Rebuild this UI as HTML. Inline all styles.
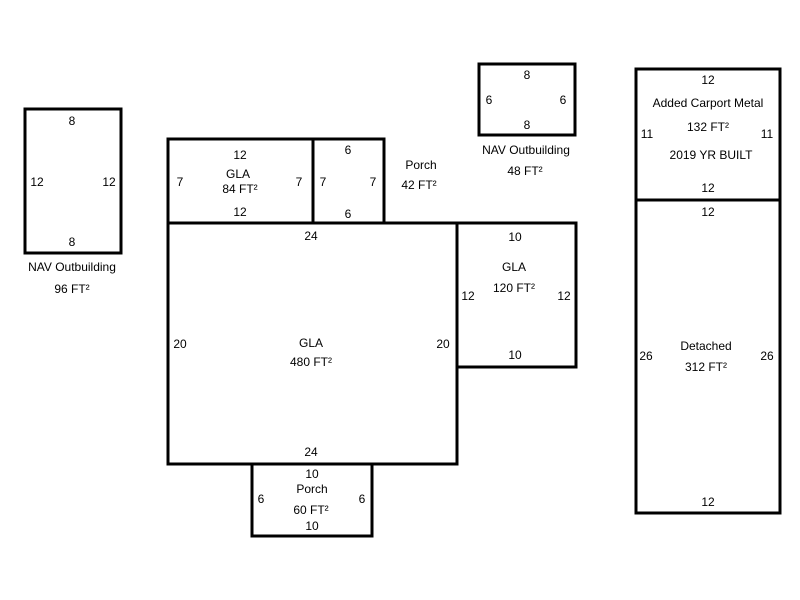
<!DOCTYPE html>
<html><head><meta charset="utf-8"><style>
html,body{margin:0;padding:0;background:#fff;}
svg{display:block;}
text{font-family:"Liberation Sans",Arial,sans-serif;font-size:12px;fill:#000;}
</style></head><body>
<svg width="800" height="600" viewBox="0 0 800 600" xmlns="http://www.w3.org/2000/svg">
<g fill="none" stroke="#000" stroke-width="3">
<rect x="25" y="109" width="96" height="144"/>
<rect x="168" y="139" width="145" height="84"/>
<rect x="313" y="139" width="71" height="84"/>
<rect x="168" y="223" width="289" height="241"/>
<rect x="457" y="223" width="119" height="144"/>
<rect x="252" y="464" width="120" height="72"/>
<rect x="479" y="64" width="96" height="71"/>
<rect x="636" y="69" width="144" height="131"/>
<rect x="636" y="200" width="144" height="313"/>
</g>
<g text-anchor="middle">
<text x="72" y="125">8</text><text x="72" y="246">8</text>
<text x="37" y="186">12</text><text x="109" y="186">12</text>
<text x="72" y="271">NAV Outbuilding</text><text x="72" y="293">96 FT²</text>

<text x="240" y="159">12</text><text x="238" y="178">GLA</text><text x="240" y="193">84 FT²</text>
<text x="240" y="216">12</text><text x="180" y="186">7</text><text x="299" y="186">7</text>

<text x="348" y="154">6</text><text x="348" y="218">6</text>
<text x="323" y="186">7</text><text x="373" y="186">7</text>
<text x="421" y="169">Porch</text><text x="419" y="189">42 FT²</text>

<text x="311" y="240">24</text><text x="311" y="456">24</text>
<text x="180" y="348">20</text><text x="443" y="348">20</text>
<text x="311" y="347">GLA</text><text x="311" y="366">480 FT²</text>

<text x="515" y="241">10</text><text x="515" y="359">10</text>
<text x="468" y="300">12</text><text x="564" y="300">12</text>
<text x="514" y="271">GLA</text><text x="514" y="292">120 FT²</text>

<text x="312" y="478">10</text><text x="312" y="530">10</text>
<text x="261" y="503">6</text><text x="362" y="503">6</text>
<text x="312" y="493">Porch</text><text x="311" y="514">60 FT²</text>

<text x="527" y="79">8</text><text x="527" y="129">8</text>
<text x="489" y="104">6</text><text x="563" y="104">6</text>
<text x="526" y="154">NAV Outbuilding</text><text x="525" y="175">48 FT²</text>

<text x="708" y="84">12</text><text x="708" y="107">Added Carport Metal</text>
<text x="708" y="131">132 FT²</text><text x="711" y="159">2019 YR BUILT</text>
<text x="647" y="138">11</text><text x="767" y="138">11</text>
<text x="708" y="192">12</text>

<text x="708" y="216">12</text><text x="708" y="506">12</text>
<text x="646" y="360">26</text><text x="767" y="360">26</text>
<text x="706" y="350">Detached</text><text x="706" y="371">312 FT²</text>
</g>
</svg>
</body></html>
